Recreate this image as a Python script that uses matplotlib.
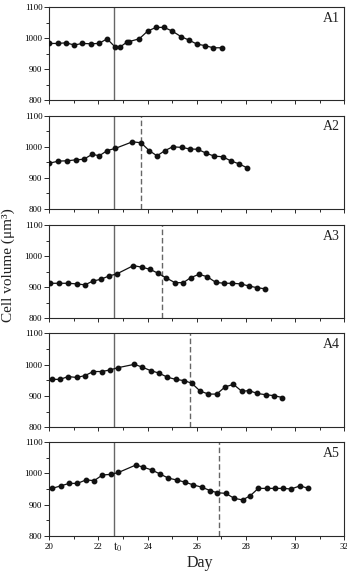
import matplotlib
matplotlib.use('Agg')
import matplotlib.pyplot as plt
from matplotlib.ticker import MultipleLocator

plt.rcParams['font.family'] = ['Liberation Serif', 'DejaVu Serif']
plt.rcParams['mathtext.fontset'] = 'stix'

# ---- data ----
days1 = [20.0, 20.34, 20.67, 21.02, 21.34, 21.68, 22.02, 22.35, 22.67, 22.89, 23.15, 23.24,
         23.66, 24.0, 24.34, 24.67, 25.0, 25.36, 25.68, 26.0, 26.33, 26.67, 27.01]
vol1 = [983, 983, 985, 978, 983, 982, 983, 998, 972, 972, 987, 989,
        998, 1023, 1035, 1035, 1023, 1005, 994, 981, 976, 969, 969]

days2 = [19.99, 20.37, 20.72, 21.07, 21.4, 21.75, 22.03, 22.36, 22.69, 23.38, 23.73, 24.06,
         24.38, 24.71, 25.02, 25.39, 25.72, 26.04, 26.39, 26.71, 27.05, 27.38, 27.72, 28.03]
vol2 = [947, 954, 955, 958, 960, 976, 971, 988, 995, 1016, 1013, 988,
        971, 988, 1000, 998, 993, 992, 979, 970, 968, 955, 945, 933]

days3 = [20.03, 20.39, 20.77, 21.11, 21.45, 21.77, 22.1, 22.44, 22.74, 23.42, 23.76, 24.1, 24.43,
         24.74, 25.11, 25.45, 25.75, 26.09, 26.43, 26.77, 27.11, 27.45, 27.79, 28.13, 28.44, 28.78]
vol3 = [912, 912, 912, 910, 907, 919, 925, 936, 942, 969, 964, 957, 944,
        930, 914, 914, 930, 941, 933, 915, 912, 912, 910, 903, 898, 894]

days4 = [20.1, 20.44, 20.77, 21.11, 21.45, 21.79, 22.13, 22.47, 22.78, 23.46, 23.78, 24.12, 24.46, 24.8,
         25.14, 25.48, 25.79, 26.13, 26.47, 26.81, 27.15, 27.49, 27.83, 28.13, 28.46, 28.8, 29.14, 29.48]
vol4 = [953, 953, 962, 959, 965, 978, 978, 983, 990, 1001, 992, 981, 973, 960,
        953, 949, 941, 916, 906, 906, 929, 937, 915, 917, 908, 904, 901, 895]

days5 = [20.12, 20.46, 20.81, 21.14, 21.49, 21.83, 22.16, 22.5, 22.81, 23.52, 23.83, 24.17, 24.51,
         24.84, 25.18, 25.52, 25.86, 26.2, 26.54, 26.83, 27.18, 27.52, 27.86, 28.17, 28.5, 28.85,
         29.19, 29.52, 29.83, 30.2, 30.54]
vol5 = [952, 960, 968, 968, 979, 977, 995, 997, 1003, 1027, 1020, 1011, 998,
        985, 979, 972, 963, 956, 945, 938, 936, 920, 915, 928, 952, 952,
        952, 952, 950, 960, 952]

panel_labels = ['A1', 'A2', 'A3', 'A4', 'A5']
t0_day = 22.65
dashed_days = [None, 23.74, 24.58, 25.71, 26.89]
x_ticks = [20, 22, 24, 26, 28, 30, 32]
y_ticks = [800, 900, 1000, 1100]

series = [(days1, vol1), (days2, vol2), (days3, vol3), (days4, vol4), (days5, vol5)]

# ---- figure ----
W, H = 347, 573
fig = plt.figure(figsize=(W / 100, H / 100), dpi=100)

tops = [7.3, 115.7, 225.0, 333.3, 442.3]
bottoms = [100.0, 209.0, 318.0, 427.3, 535.7]
left_px, right_px = 49.3, 344.3

frame_col = '#2a2a2a'
for i, ((d, v), lab) in enumerate(zip(series, panel_labels)):
    ax = fig.add_axes([left_px / W, 1 - bottoms[i] / H,
                       (right_px - left_px) / W, (bottoms[i] - tops[i]) / H])
    ax.plot(d, v, '-o', color='#111111', lw=0.9, ms=3.2, mec='#111111', mfc='#111111', zorder=3)
    ax.axvline(t0_day, color='#666666', lw=1.0, zorder=2)
    if dashed_days[i] is not None:
        ax.axvline(dashed_days[i], color='#666666', lw=1.0, ls=(0, (4, 2)), zorder=2)
    ax.set_xlim(20, 32)
    ax.set_ylim(800, 1100)
    ax.set_xticks(x_ticks)
    ax.xaxis.set_minor_locator(MultipleLocator(1))
    ax.set_yticks(y_ticks)
    ax.yaxis.set_minor_locator(MultipleLocator(50))
    ax.tick_params(axis='both', which='both', direction='out', color=frame_col, width=0.7)
    ax.tick_params(axis='x', which='major', length=3)
    ax.tick_params(axis='x', which='minor', length=2.5)
    ax.tick_params(axis='y', which='major', length=3.5, labelsize=6.5, pad=1.5)
    ax.tick_params(axis='y', which='minor', length=2)
    ax.tick_params(axis='x', labelsize=6.5, pad=2)
    for s in ax.spines.values():
        s.set_color(frame_col)
        s.set_linewidth(0.8)
    if i < 4:
        ax.tick_params(axis='x', labelbottom=False)
    else:
        ax.text(t0_day + 0.12, -0.055, r'$\mathrm{t}_0$', transform=ax.get_xaxis_transform(),
                ha='center', va='top', fontsize=8.5, color='#222222')
    ax.text(0.985, 0.95, lab, transform=ax.transAxes, ha='right', va='top', fontsize=10,
            color='#222222')

fig.text(8 / W, 1 - 265 / H, 'Cell volume (μm³)', rotation=90, ha='center', va='center',
         fontsize=11, color='#222222')
fig.text(200 / W, 1 - 563 / H, 'Day', ha='center', va='center', fontsize=11.5, color='#222222')

fig.savefig('out.png', dpi=100)
